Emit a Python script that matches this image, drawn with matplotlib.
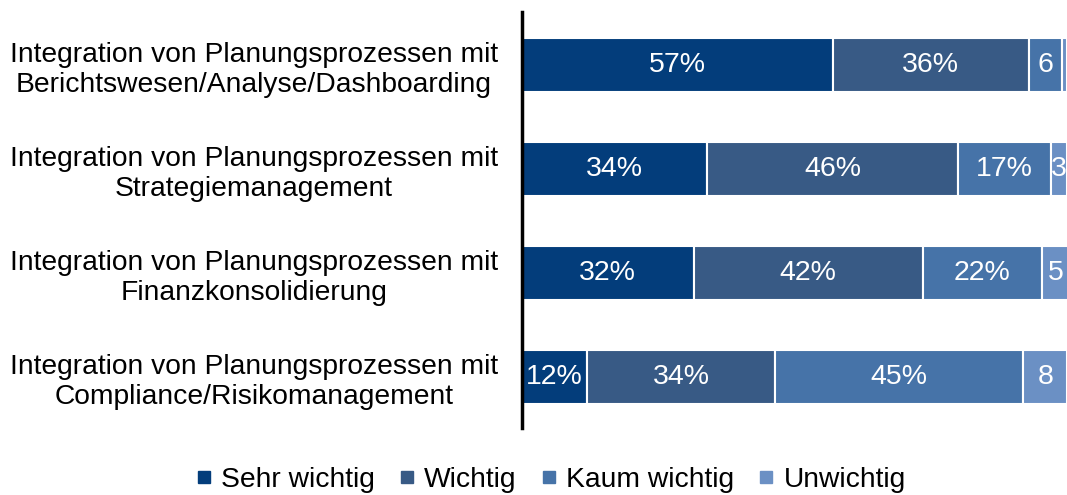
import numpy as np
import matplotlib.pyplot as plt
from matplotlib.lines import Line2D

plt.rcParams['font.family'] = ['Liberation Sans', 'DejaVu Sans']

categories = [
    'Integration von Planungsprozessen mit\nBerichtswesen/Analyse/Dashboarding',
    'Integration von Planungsprozessen mit\nStrategiemanagement',
    'Integration von Planungsprozessen mit\nFinanzkonsolidierung',
    'Integration von Planungsprozessen mit\nCompliance/Risikomanagement',
]
series = ['Sehr wichtig', 'Wichtig', 'Kaum wichtig', 'Unwichtig']
# shares in percent
sehr_wichtig = [57, 34, 31.5, 12]
wichtig = [36, 46, 42, 34.5]
kaum_wichtig = [6, 17, 22, 45.5]
unwichtig = [1, 3, 5, 8]
# printed labels
lbl_sehr = ['57%', '34%', '32%', '12%']
lbl_wichtig = ['36%', '46%', '42%', '34%']
lbl_kaum = ['6', '17%', '22%', '45%']
lbl_un = ['', '3', '5', '8']

colors = ['#033d7b', '#385a85', '#4673a8', '#6b90c4']

fig = plt.figure(figsize=(10.67, 4.95), dpi=100)
ax = fig.add_axes([0.489, 0.135, 0.511, 0.841])

y = np.arange(len(categories))
left = np.zeros(len(categories))
for name, vals, lbls, col in zip(series,
                                 [sehr_wichtig, wichtig, kaum_wichtig, unwichtig],
                                 [lbl_sehr, lbl_wichtig, lbl_kaum, lbl_un], colors):
    vals = np.array(vals, dtype=float)
    bars = ax.barh(y, vals, left=left, height=0.52, color=col,
                   edgecolor='white', linewidth=1.5, label=name)
    for b, txt in zip(bars, lbls):
        ax.text(b.get_x() + b.get_width() / 2, b.get_y() + b.get_height() / 2,
                txt, ha='center', va='center', color='white', fontsize=20.5)
    left += vals

ax.set_xlim(0, 100)
ax.set_ylim(3.49, -0.51)
ax.set_yticks(y)
ax.set_yticklabels(categories, fontsize=20.3)
for lab in ax.get_yticklabels():
    lab.set_multialignment('center')
ax.tick_params(axis='y', length=0, pad=17)
ax.set_xticks([])
for s in ['top', 'right', 'bottom']:
    ax.spines[s].set_visible(False)
ax.spines['left'].set_linewidth(2.5)
ax.spines['left'].set_color('black')

handles = [Line2D([], [], marker='s', linestyle='none', markersize=8,
                  markerfacecolor=c, markeredgecolor=c) for c in colors]
fig.legend(handles, series, loc='center', bbox_to_anchor=(0.516, 0.03), ncol=4,
           frameon=False, fontsize=20.3, handlelength=0.6, handletextpad=0.3,
           columnspacing=0.85)

fig.savefig('out.png', dpi=100)
